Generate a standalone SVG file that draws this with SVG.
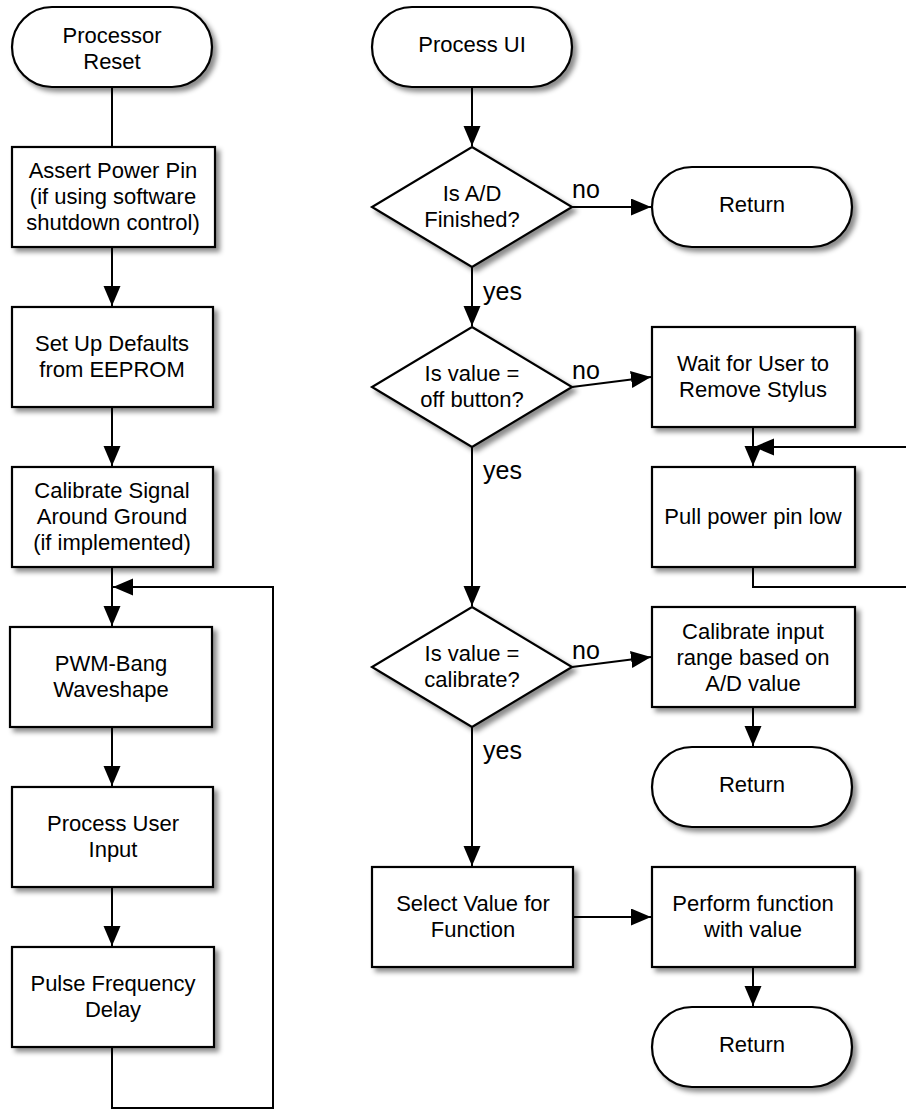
<svg xmlns="http://www.w3.org/2000/svg" width="906" height="1110" viewBox="0 0 906 1110">
<defs>
<filter id="sh" x="-10%" y="-10%" width="130%" height="140%">
<feDropShadow dx="4" dy="4" stdDeviation="2.5" flood-color="#000" flood-opacity="0.45"/>
</filter>
<marker id="ah" markerUnits="userSpaceOnUse" markerWidth="22" markerHeight="18" refX="20" refY="8.5" orient="auto">
<path d="M0,0 L20,8.5 L0,17 Z" fill="#000"/>
</marker>
</defs>
<style>
.n{fill:#fff;stroke:#000;stroke-width:2.2;filter:url(#sh)}
.t{font-family:"Liberation Sans",Arial,sans-serif;font-size:22px;fill:#000;text-anchor:middle}
.l{font-family:"Liberation Sans",Arial,sans-serif;font-size:25px;fill:#000}
.c{fill:none;stroke:#000;stroke-width:2}
</style>
<g id="connectors">
<path class="c" d="M112,87 V147"/>
<path class="c" d="M112,247 V306" marker-end="url(#ah)"/>
<path class="c" d="M112,407 V466" marker-end="url(#ah)"/>
<path class="c" d="M112,567 V626" marker-end="url(#ah)"/>
<path class="c" d="M112,727 V786" marker-end="url(#ah)"/>
<path class="c" d="M112,887 V946" marker-end="url(#ah)"/>
<path class="c" d="M112,1047 V1108 H273 V587 H113" marker-end="url(#ah)"/>
<path class="c" d="M472,87 V146" marker-end="url(#ah)"/>
<path class="c" d="M572,207 H651" marker-end="url(#ah)"/>
<path class="c" d="M472,267 V326" marker-end="url(#ah)"/>
<path class="c" d="M572,387 L651,377" marker-end="url(#ah)"/>
<path class="c" d="M472,447 V606" marker-end="url(#ah)"/>
<path class="c" d="M572,667 L651,657" marker-end="url(#ah)"/>
<path class="c" d="M472,727 V866" marker-end="url(#ah)"/>
<path class="c" d="M753,427 V466" marker-end="url(#ah)"/>
<path class="c" d="M906,447 H754" marker-end="url(#ah)"/>
<path class="c" d="M753,567 V587 H906"/>
<path class="c" d="M753,707 V746" marker-end="url(#ah)"/>
<path class="c" d="M573,917 H651" marker-end="url(#ah)"/>
<path class="c" d="M753,967 V1006" marker-end="url(#ah)"/>
</g>
<g id="labels">
<text class="l" x="572" y="198">no</text>
<text class="l" x="483" y="300">yes</text>
<text class="l" x="572" y="379">no</text>
<text class="l" x="483" y="479">yes</text>
<text class="l" x="572" y="659">no</text>
<text class="l" x="483" y="759">yes</text>
</g>
<g id="processor-reset"><rect class="n" x="12" y="7" width="200" height="80" rx="40"/><text class="t" x="112" y="43">Processor</text><text class="t" x="112" y="69">Reset</text></g>
<g id="assert-power-pin"><rect class="n" x="12" y="147" width="203" height="100"/><text class="t" x="113" y="178">Assert Power Pin</text><text class="t" x="113" y="204">(if using software</text><text class="t" x="113" y="230">shutdown control)</text></g>
<g id="set-up-defaults"><rect class="n" x="12" y="307" width="201" height="100"/><text class="t" x="112" y="351">Set Up Defaults</text><text class="t" x="112" y="377">from EEPROM</text></g>
<g id="calibrate-signal"><rect class="n" x="12" y="467" width="201" height="100"/><text class="t" x="112" y="498">Calibrate Signal</text><text class="t" x="112" y="524">Around Ground</text><text class="t" x="112" y="550">(if implemented)</text></g>
<g id="pwm-bang"><rect class="n" x="10" y="627" width="202" height="100"/><text class="t" x="111" y="671">PWM-Bang</text><text class="t" x="111" y="697">Waveshape</text></g>
<g id="process-user-input"><rect class="n" x="12" y="787" width="201" height="100"/><text class="t" x="113" y="831">Process User</text><text class="t" x="113" y="857">Input</text></g>
<g id="pulse-frequency-delay"><rect class="n" x="12" y="947" width="202" height="100"/><text class="t" x="113" y="991">Pulse Frequency</text><text class="t" x="113" y="1017">Delay</text></g>
<g id="process-ui"><rect class="n" x="372" y="7" width="200" height="80" rx="40"/><text class="t" x="472" y="52">Process UI</text></g>
<g id="is-ad-finished"><polygon class="n" points="472,147 572,207 472,267 372,207"/><text class="t" x="472" y="201">Is A/D</text><text class="t" x="472" y="227">Finished?</text></g>
<g id="return-1"><rect class="n" x="652" y="167" width="200" height="80" rx="40"/><text class="t" x="752" y="212">Return</text></g>
<g id="is-off-button"><polygon class="n" points="472,327 572,387 472,447 372,387"/><text class="t" x="472" y="381">Is value =</text><text class="t" x="472" y="407">off button?</text></g>
<g id="wait-for-user"><rect class="n" x="652" y="327" width="203" height="100"/><text class="t" x="753" y="371">Wait for User to</text><text class="t" x="753" y="397">Remove Stylus</text></g>
<g id="pull-power-pin-low"><rect class="n" x="652" y="467" width="203" height="100"/><text class="t" x="753" y="524">Pull power pin low</text></g>
<g id="is-calibrate"><polygon class="n" points="472,607 572,667 472,727 372,667"/><text class="t" x="472" y="661">Is value =</text><text class="t" x="472" y="687">calibrate?</text></g>
<g id="calibrate-input"><rect class="n" x="652" y="607" width="203" height="100"/><text class="t" x="753" y="639">Calibrate input</text><text class="t" x="753" y="665">range based on</text><text class="t" x="753" y="691">A/D value</text></g>
<g id="return-2"><rect class="n" x="652" y="747" width="200" height="80" rx="40"/><text class="t" x="752" y="792">Return</text></g>
<g id="select-value"><rect class="n" x="372" y="867" width="201" height="100"/><text class="t" x="473" y="911">Select Value for</text><text class="t" x="473" y="937">Function</text></g>
<g id="perform-function"><rect class="n" x="652" y="867" width="203" height="100"/><text class="t" x="753" y="911">Perform function</text><text class="t" x="753" y="937">with value</text></g>
<g id="return-3"><rect class="n" x="652" y="1007" width="200" height="80" rx="40"/><text class="t" x="752" y="1052">Return</text></g>
</svg>
